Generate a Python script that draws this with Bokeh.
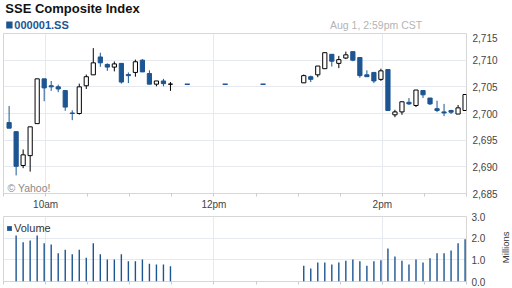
import math
from bokeh.plotting import figure
from bokeh.models import (Range1d, FixedTicker, NumeralTickFormatter, PrintfTickFormatter,
                          Label, Legend, LegendItem, ColumnDataSource)
from bokeh.layouts import column, row
from bokeh.embed import file_html
from bokeh.resources import INLINE
from bokeh.core.properties import value

BLUE = "#1c5592"
FONT = "Liberation Sans"

TITLE = "SSE Composite Index"
SYMBOL = "000001.SS"
STAMP = "Aug 1, 2:59pm CST"
CREDIT = "\u00a9 Yahoo!"
VOL_LABEL = "Volume"
VOL_UNIT = "Millions"

am_times = ["09:34", "09:39", "09:44", "09:49", "09:54", "09:59", "10:04", "10:09",
            "10:14", "10:19", "10:24", "10:29", "10:34", "10:39", "10:44", "10:49",
            "10:54", "10:59", "11:04", "11:09", "11:14", "11:19", "11:24", "11:29"]
am_open = [2698.3, 2696.6, 2690.25, 2692.1, 2698.1, 2706.5, 2705.2, 2705.0,
           2704.3, 2700.1, 2700.0, 2705.2, 2707.25, 2710.6, 2709.2, 2708.7,
           2709.4, 2707.3, 2707.7, 2710.0, 2707.5, 2705.5, 2706.1, 2705.5]
am_high = [2701.4, 2696.6, 2693.25, 2697.5, 2706.5, 2706.5, 2706.1, 2705.4,
           2704.3, 2700.6, 2705.6, 2707.3, 2712.25, 2711.4, 2709.4, 2709.75,
           2709.4, 2707.7, 2710.1, 2710.2, 2708.1, 2706.1, 2706.5, 2705.9]
am_low = [2697.25, 2688.4, 2689.75, 2689.1, 2698.1, 2702.3, 2704.25, 2704.0,
          2700.5, 2698.75, 2699.8, 2704.6, 2707.25, 2708.75, 2708.0, 2707.9,
          2705.6, 2705.7, 2706.9, 2707.8, 2705.5, 2705.1, 2705.1, 2704.25]
am_close = [2697.25, 2690.1, 2692.25, 2697.5, 2706.5, 2704.8, 2705.0, 2704.6,
            2701.2, 2700.0, 2705.0, 2706.9, 2709.5, 2709.5, 2708.7, 2709.3,
            2705.9, 2707.1, 2709.7, 2707.8, 2705.5, 2706.1, 2705.6, 2705.5]
am_volume = [float("nan"), 2.12, 1.81, 1.89, 2.12, 1.77, 1.71, 1.30,
             1.47, 1.26, 1.47, 1.10, 1.77, 1.26, 1.01, 1.01,
             1.26, 0.93, 0.93, 1.01, 0.82, 0.79, 0.79, 0.70]

pm_times = ["13:04", "13:09", "13:14", "13:19", "13:24", "13:29", "13:34", "13:39",
            "13:44", "13:49", "13:54", "13:59", "14:04", "14:09", "14:14", "14:19",
            "14:24", "14:29", "14:34", "14:39", "14:44", "14:49", "14:54", "14:59"]
pm_open = [2705.75, 2706.9, 2707.25, 2708.4, 2711.1, 2709.4, 2710.4, 2711.6,
           2710.5, 2707.25, 2707.7, 2706.4, 2708.25, 2699.75, 2700.3, 2702.1,
           2701.5, 2704.3, 2702.9, 2700.9, 2700.3, 2700.56, 2699.9, 2700.56]
pm_high = [2707.3, 2707.1, 2708.9, 2711.4, 2711.1, 2710.8, 2711.6, 2711.6,
           2710.5, 2708.1, 2707.7, 2708.4, 2708.25, 2700.7, 2702.2, 2702.9,
           2704.4, 2704.3, 2702.9, 2702.4, 2701.8, 2700.7, 2701.6, 2703.56]
pm_low = [2705.75, 2705.9, 2706.8, 2708.4, 2708.8, 2708.5, 2710.2, 2709.8,
          2706.7, 2706.9, 2705.7, 2706.1, 2700.56, 2699.3, 2699.75, 2701.6,
          2701.2, 2702.9, 2701.6, 2700.25, 2699.5, 2699.9, 2699.9, 2700.56]
pm_close = [2707.1, 2706.4, 2708.9, 2711.4, 2709.8, 2710.1, 2711.0, 2710.0,
            2707.1, 2706.9, 2706.1, 2708.0, 2700.56, 2700.3, 2702.2, 2701.8,
            2704.4, 2703.5, 2701.8, 2700.56, 2700.1, 2700.25, 2701.06, 2703.56]
pm_volume = [0.73, 0.60, 0.88, 0.88, 0.79, 0.88, 0.96, 1.02,
             0.93, 0.73, 0.93, 0.98, 1.52, 1.15, 0.96, 0.79,
             1.02, 0.88, 1.07, 1.30, 1.30, 1.43, 1.77, 1.95]

lunch_times = ["11:41", "12:08", "12:35"]
lunch_price = [2705.5, 2705.5, 2705.5]

half_hour_ticks = ["09:30", "10:00", "10:30", "11:00", "11:30", "12:00", "12:30",
                   "13:00", "13:30", "14:00", "14:30", "15:00"]
label_ticks = ["10:00", "12:00", "14:00"]
x_tick_labels = {"10:00": "10am", "12:00": "12pm", "14:00": "2pm"}
price_ticks = [2685, 2690, 2695, 2700, 2705, 2710, 2715]
volume_ticks = [0, 1, 2, 3]


def to_min(s):
    h, m = s.split(":")
    return int(h) * 60 + int(m)


times = [to_min(s) for s in am_times + pm_times]
opens = am_open + pm_open
highs = am_high + pm_high
lows = am_low + pm_low
closes = am_close + pm_close
vols = am_volume + pm_volume

up = [c >= o for o, c in zip(opens, closes)]
up_src = ColumnDataSource(dict(
    x=[t for t, u in zip(times, up) if u],
    top=[c for c, u in zip(closes, up) if u],
    bottom=[o for o, u in zip(opens, up) if u]))
dn_src = ColumnDataSource(dict(
    x=[t for t, u in zip(times, up) if not u],
    top=[o for o, u in zip(opens, up) if not u],
    bottom=[c for c, u in zip(closes, up) if not u]))
wick_src = ColumnDataSource(dict(
    x=times, high=highs, low=lows,
    color=["black" if u else BLUE for u in up]))

x_range = Range1d(to_min(half_hour_ticks[0]), to_min(half_hour_ticks[-1]))
major = [to_min(s) for s in label_ticks]
minor = [to_min(s) for s in half_hour_ticks if s not in label_ticks]

GRID = "#e6e9ef"
OUTLINE = "#d6d6d6"
TXT = "#444444"


def bare(width, height, xr, yr):
    f = figure(width=width, height=height, x_range=xr, y_range=yr,
               toolbar_location=None, output_backend="svg", x_axis_location=None,
               y_axis_location=None, min_border=0, title=None)
    f.grid.visible = False
    f.outline_line_color = None
    return f


# ---------- header ----------
hdr = bare(512, 33, Range1d(0, 512), Range1d(33, 0))
hdr.text(x=[2], y=[7.5], text=[TITLE], text_font=value(FONT), text_font_style="bold",
         text_font_size="13px", text_color="#111111", text_baseline="middle")
hdr.rect(x=[6.5], y=[24.5], width=7, height=7, fill_color=BLUE, line_color=None)
hdr.text(x=[12], y=[24.2], text=[SYMBOL], text_font=value(FONT), text_font_style="bold",
         text_font_size="11px", text_color=BLUE, text_baseline="middle")
hdr.text(x=[463], y=[24.2], text=[STAMP], text_font=value(FONT),
         text_font_size="10.5px", text_color="#b4b4b4", text_baseline="middle",
         text_align="right")

# ---------- main price chart ----------
p = figure(width=512, height=179, x_range=x_range, y_range=Range1d(2685, 2715),
           toolbar_location=None, output_backend="svg", x_axis_location="below",
           y_axis_location="right", min_border_left=3, min_border_right=46,
           min_border_top=0, min_border_bottom=19, title=None)
p.outline_line_color = OUTLINE
p.background_fill_color = "white"

p.xaxis.ticker = FixedTicker(ticks=major, minor_ticks=minor)
p.xaxis.major_label_overrides = {to_min(s): x_tick_labels[s] for s in label_ticks}
p.xaxis.major_tick_out = 3
p.xaxis.major_tick_in = 0
p.xaxis.minor_tick_out = 3
p.xaxis.minor_tick_in = 0
p.xaxis.major_tick_line_color = "#cccccc"
p.xaxis.minor_tick_line_color = "#cccccc"
p.xaxis.axis_line_color = None
p.xaxis.major_label_standoff = 2
p.xaxis.major_label_text_font = FONT
p.xaxis.major_label_text_font_size = "10px"
p.xaxis.major_label_text_color = TXT

p.yaxis.ticker = FixedTicker(ticks=price_ticks, minor_ticks=[])
p.yaxis.formatter = NumeralTickFormatter(format="0,0")
p.yaxis.major_tick_out = 0
p.yaxis.major_tick_in = 0
p.yaxis.axis_line_color = None
p.yaxis.major_label_standoff = 6
p.yaxis.major_label_text_font = FONT
p.yaxis.major_label_text_font_size = "10px"
p.yaxis.major_label_text_color = TXT

p.xgrid.ticker = FixedTicker(ticks=major, minor_ticks=[])
p.xgrid.grid_line_color = GRID
p.ygrid.ticker = FixedTicker(ticks=price_ticks, minor_ticks=[])
p.ygrid.grid_line_color = GRID

p.segment(x0="x", y0="low", x1="x", y1="high", line_color="color", line_width=1,
          source=wick_src)
p.vbar(x="x", width=3.0, top="top", bottom="bottom", fill_color="white",
       line_color="black", line_width=1, source=up_src)
p.vbar(x="x", width=3.0, top="top", bottom="bottom", fill_color=BLUE,
       line_color=BLUE, line_width=1, source=dn_src)
p.scatter(x=[to_min(s) for s in lunch_times], y=lunch_price, marker="dash", size=5,
          line_color=BLUE, line_width=1.5)

p.add_layout(Label(x=4, y=5.5, x_units="screen", y_units="screen", text=CREDIT,
                   text_font=FONT, text_font_size="10.5px", text_color="#8a8a8a",
                   text_baseline="alphabetic"))

# ---------- volume chart ----------
v = figure(width=496, height=76, x_range=x_range, y_range=Range1d(0, 3),
           toolbar_location=None, output_backend="svg", x_axis_location="below",
           y_axis_location="right", min_border_left=3, min_border_right=30,
           min_border_top=4, min_border_bottom=7, title=None)
v.outline_line_color = OUTLINE

v.xaxis.ticker = FixedTicker(ticks=[], minor_ticks=major + minor)
v.xaxis.minor_tick_out = 3
v.xaxis.minor_tick_in = 0
v.xaxis.minor_tick_line_color = "#cccccc"
v.xaxis.axis_line_color = None

v.yaxis.ticker = FixedTicker(ticks=volume_ticks, minor_ticks=[])
v.yaxis.formatter = PrintfTickFormatter(format="%.1f")
v.yaxis.major_tick_out = 0
v.yaxis.major_tick_in = 0
v.yaxis.axis_line_color = None
v.yaxis.major_label_standoff = 5
v.yaxis.major_label_text_font = FONT
v.yaxis.major_label_text_font_size = "10px"
v.yaxis.major_label_text_color = TXT

v.xgrid.ticker = FixedTicker(ticks=major, minor_ticks=[])
v.xgrid.grid_line_color = GRID
v.ygrid.ticker = FixedTicker(ticks=volume_ticks, minor_ticks=[])
v.ygrid.grid_line_color = GRID

vol_src = ColumnDataSource(dict(x=times, top=vols))
vr = v.vbar(x="x", width=1.0, top="top", bottom=0, fill_color=BLUE, line_color=None,
            source=vol_src)

leg = Legend(items=[LegendItem(label=VOL_LABEL, renderers=[vr])], location=(3, 47),
             glyph_width=6, glyph_height=6, label_height=10, label_standoff=2,
             padding=0, margin=0, spacing=0, border_line_color=None,
             background_fill_alpha=0, label_text_font=FONT,
             label_text_font_size="11px", label_text_color="#333333")
v.add_layout(leg)

side = bare(16, 76, Range1d(0, 16), Range1d(76, 0))
side.text(x=[9], y=[36], text=[VOL_UNIT], angle=math.pi / 2, text_align="center",
          text_baseline="middle", text_font=value(FONT), text_font_size="9.5px",
          text_color="#333333")

layout = column(hdr, p, row(v, side, spacing=0), spacing=0)
open("out.html", "w").write(file_html(layout, INLINE))
